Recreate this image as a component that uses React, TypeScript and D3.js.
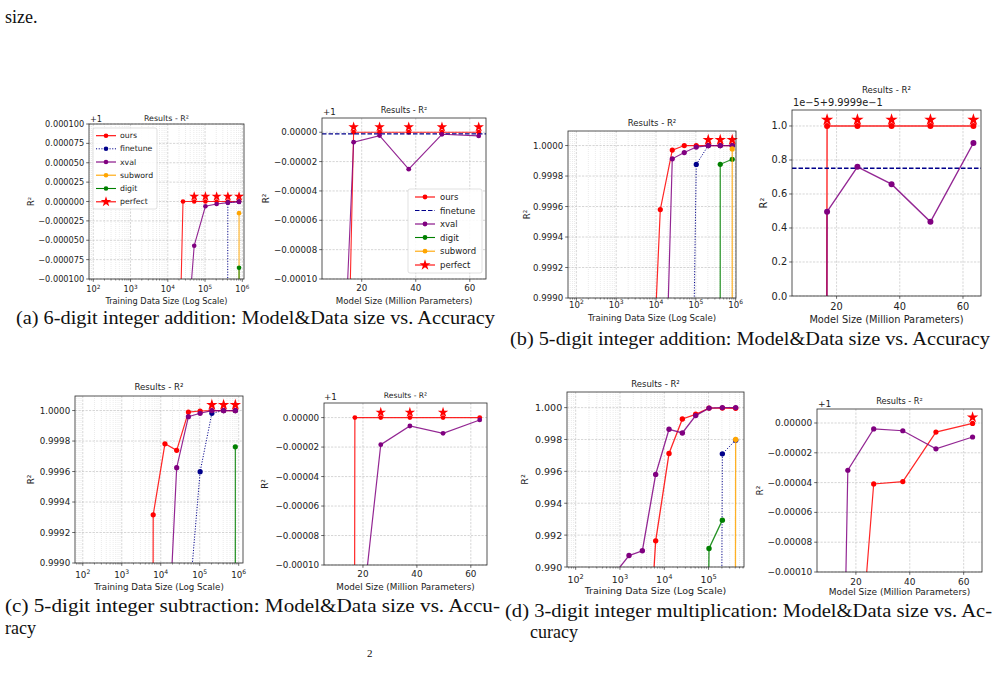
import React from 'react';
import * as d3 from 'd3';

type V = number | null;
const _ = null;

// x positions: training-set sizes (log panels) and model sizes in millions of parameters
const dataSizes = [100, 200, 400, 800, 1600, 3200, 6400, 12800, 25600, 51200, 102400, 204800, 409600, 819200];
const modelSizes = [8.5, 17, 26.6, 37.4, 49.7, 63.3];

// x tick labels
const dataTicks = [1e2, 1e3, 1e4, 1e5, 1e6];
const dataTicksShort = [1e2, 1e3, 1e4, 1e5];
const modelTicks = [20, 40, 60];

// y tick labels (offset panels are relative to +1)
const ticksQuarter = [-0.0001, -0.000075, -0.00005, -0.000025, 0, 0.000025, 0.00005, 0.000075, 0.0001];
const ticksFifth = [-0.0001, -0.00008, -0.00006, -0.00004, -0.00002, 0];
const ticksFine = [0.999, 0.9992, 0.9994, 0.9996, 0.9998, 1];
const ticksUnit = [0, 0.2, 0.4, 0.6, 0.8, 1];
const ticksMul = [0.99, 0.992, 0.994, 0.996, 0.998, 1];

// (a) 6-digit addition, R² vs data size
const add6DataOurs: V[] = [_, _, _, _, _, _, _, 0.99937, 1, 1, 1, 1, 1, 1];
const add6DataFinetune: V[] = [_, _, _, _, _, _, _, _, _, _, _, 0.99, 0.9999985, 0.9999998];
const add6DataXval: V[] = [_, _, _, _, _, _, _, _, 0.999756, 0.999943, 0.9999938, 0.9999968, 0.9999985, 0.9999995];
const add6DataSubword: V[] = [_, _, _, _, _, _, _, _, _, _, _, _, 0.5, 0.999985];
const add6DataDigit: V[] = [_, _, _, _, _, _, _, _, _, _, _, _, 0.5, 0.9999145];
const add6DataPerfect: V[] = [_, _, _, _, _, _, _, _, _, 1, 1, 1, 1, 1];
// (a) 6-digit addition, R² vs model size
const add6ModelOurs: V[] = [0.99929, 1, 1, 1, 1, 1];
const add6ModelFinetune: V[] = [0.9999989];
const add6ModelXval: V[] = [0.99963, 0.9999932, 0.9999977, 0.9999748, 0.9999986, 0.9999975];
const add6ModelPerfect: V[] = [_, 1, 1, 1, 1, 1];

// (b) 5-digit addition
const add5DataOurs: V[] = [_, _, _, _, _, _, 0.9978, 0.99958, 0.99997, 1, 1, 1, 1, 1];
const add5DataFinetune: V[] = [_, _, _, _, _, _, _, _, _, 0.9946, 0.999876, 1, 1, 1];
const add5DataXval: V[] = [_, _, _, _, _, _, _, 0.99714, 0.999913, 0.999954, 0.99999, 1, 1, 1];
const add5DataDigit: V[] = [_, _, _, _, _, _, _, _, _, _, _, 0.5, 0.999877, 0.99991];
const add5DataSubword: V[] = [_, _, _, _, _, _, _, _, _, _, _, _, 0.5, 0.999978];
const add5DataPerfect: V[] = [_, _, _, _, _, _, _, _, _, _, _, 1, 1, 1];
const add5ModelOurs: V[] = [0.999, 1, 1, 1, 1, 1];
const add5ModelFinetune: V[] = [0.99999751];
const add5ModelXval: V[] = [0.999, 0.99999496, 0.9999976, 0.99999658, 0.99999436, 0.999999];
const add5ModelPerfect: V[] = [_, 1, 1, 1, 1, 1];

// (c) 5-digit subtraction
const sub5DataOurs: V[] = [_, _, _, _, _, 0.95, 0.999316, 0.999782, 0.999739, 0.99999, 0.999997, 1, 1, 1];
const sub5DataFinetune: V[] = [_, _, _, _, _, _, _, _, _, 0.99869, 0.999599, 0.999982, 1, 1];
const sub5DataXval: V[] = [_, _, _, _, _, _, _, 0.99802, 0.999625, 0.99996, 0.999982, 1, 1, 1];
const sub5DataDigit: V[] = [_, _, _, _, _, _, _, _, _, _, _, _, 0.5, 0.999762];
const sub5DataPerfect: V[] = [_, _, _, _, _, _, _, _, _, _, _, 1, 1, 1];
const sub5ModelOurs: V[] = [0.99, 1, 1, 1, 1, 1];
const sub5ModelXval: V[] = [0.999, 0.999822, 0.9999816, 0.9999943, 0.9999893, 0.9999984];
const sub5ModelPerfect: V[] = [_, _, 1, 1, 1, _];

// (d) 3-digit multiplication
const mul3DataOurs: V[] = [_, _, _, _, _, 0.978, 0.99164, 0.99712, 0.99929, 0.99958, 0.99997, 0.99997, 0.99996, _];
const mul3DataFinetune: V[] = [_, _, _, _, _, _, _, _, _, _, 0.8, 0.9971, 0.99796, _];
const mul3DataXval: V[] = [_, _, _, 0.98966, 0.99072, 0.99102, 0.99581, 0.99864, 0.99841, 0.9995, 0.99997, 1, 1, _];
const mul3DataDigit: V[] = [_, _, _, _, _, _, _, _, _, 0.9, 0.99116, 0.99294, _, _];
const mul3DataSubword: V[] = [_, _, _, _, _, _, _, _, _, _, _, 0.5, 0.998, _];
const mul3DataPerfect: V[] = [_, _, _, _, _, _, _, _, _, _, _, _, _, _];
const mul3ModelOurs: V[] = [_, 0.99974, 0.9999591, 0.9999607, 0.9999939, 0.9999997];
const mul3ModelXval: V[] = [0.99914, 0.9999683, 0.999996, 0.9999948, 0.9999827, 0.9999906];
const mul3ModelPerfect: V[] = [_, _, _, _, _, 1];

const SANS = '"DejaVu Sans", Verdana, sans-serif';
const SERIF = '"Liberation Serif", "DejaVu Serif", serif';

const colors: Record<string, string> = {
  ours: '#ff0000',
  finetune: '#00008b',
  xval: '#800080',
  digit: '#008000',
  subword: '#ffa500',
  perfect: '#ff0000',
};

interface Series { method: string; values: V[]; hline?: boolean }
interface LegendSpec { box: [number, number, number, number]; rows: number[]; hx: [number, number]; tx: number; font: number; order: string[]; dashed: boolean }
interface PanelSpec {
  id: string;
  box: [number, number, number, number];
  log: boolean;
  xDomain: [number, number];
  xTicks: number[];
  xLabel: string;
  xTickY: number;
  xLabelY: number;
  base: number;
  unit: number;
  yDomain: [number, number];
  yTicks: number[];
  yDigits: number;
  offset?: { text: string; x: number; y: number };
  yLabelX: number;
  titleY: number;
  font: number;
  titleFont: number;
  r: number;
  starR: number;
  lw: number;
  series: Series[];
  perfect: V[];
  legend?: LegendSpec;
}

const panels: PanelSpec[] = [
  {
    id: 'a1', box: [89, 124, 244, 279], log: true, xDomain: [1.885, 6.046], xTicks: dataTicks,
    xLabel: 'Training Data Size (Log Scale)', xTickY: 292, xLabelY: 304,
    base: 1, unit: 1, yDomain: [-0.0001, 0.0001], yTicks: ticksQuarter, yDigits: 6,
    offset: { text: '+1', x: 90, y: 122 }, yLabelX: 31, titleY: 120.5, font: 8.2, titleFont: 7.9,
    r: 2.3, starR: 5.3, lw: 1.1,
    series: [
      { method: 'ours', values: add6DataOurs },
      { method: 'finetune', values: add6DataFinetune },
      { method: 'xval', values: add6DataXval },
      { method: 'subword', values: add6DataSubword },
      { method: 'digit', values: add6DataDigit },
    ],
    perfect: add6DataPerfect,
    legend: {
      box: [93, 128, 157, 209], rows: [135.7, 148.8, 162, 175.2, 188.5, 201.8], hx: [96, 116], tx: 120, font: 7.8,
      order: ['ours', 'finetune', 'xval', 'subword', 'digit', 'perfect'], dashed: false,
    },
  },
  {
    id: 'a2', box: [322, 118, 486, 279], log: false, xDomain: [5.3, 66], xTicks: modelTicks,
    xLabel: 'Model Size (Million Parameters)', xTickY: 291.3, xLabelY: 304.3,
    base: 1, unit: 1, yDomain: [-0.0001, 0.0000097], yTicks: ticksFifth, yDigits: 5,
    offset: { text: '+1', x: 323, y: 114.7 }, yLabelX: 266, titleY: 112.5, font: 8.7, titleFont: 8.2,
    r: 2.4, starR: 5.5, lw: 1.1,
    series: [
      { method: 'ours', values: add6ModelOurs },
      { method: 'finetune', values: add6ModelFinetune, hline: true },
      { method: 'xval', values: add6ModelXval },
    ],
    perfect: add6ModelPerfect,
    legend: {
      box: [408, 189, 482, 273], rows: [197, 210.5, 224, 237.5, 251.2, 265], hx: [415, 435], tx: 440, font: 8.5,
      order: ['ours', 'finetune', 'xval', 'digit', 'subword', 'perfect'], dashed: true,
    },
  },
  {
    id: 'b1', box: [568, 131, 736, 298], log: true, xDomain: [1.79, 6.008], xTicks: dataTicks,
    xLabel: 'Training Data Size (Log Scale)', xTickY: 308, xLabelY: 320.5,
    base: 0, unit: 1, yDomain: [0.999, 1.0000954], yTicks: ticksFine, yDigits: 4,
    yLabelX: 527, titleY: 125.7, font: 8.6, titleFont: 8.5,
    r: 2.6, starR: 6, lw: 1.2,
    series: [
      { method: 'ours', values: add5DataOurs },
      { method: 'finetune', values: add5DataFinetune },
      { method: 'xval', values: add5DataXval },
      { method: 'digit', values: add5DataDigit },
      { method: 'subword', values: add5DataSubword },
    ],
    perfect: add5DataPerfect,
  },
  {
    id: 'b2', box: [792, 110, 981, 296], log: false, xDomain: [5.9, 65.7], xTicks: modelTicks,
    xLabel: 'Model Size (Million Parameters)', xTickY: 310.2, xLabelY: 322.7,
    base: 0.99999, unit: 1e-5, yDomain: [0, 1.094], yTicks: ticksUnit, yDigits: 1,
    offset: { text: '1e\u22125+9.9999e\u22121', x: 793, y: 105.5 }, yLabelX: 763, titleY: 92.8, font: 9.8, titleFont: 8.6,
    r: 3, starR: 6.5, lw: 1.4,
    series: [
      { method: 'ours', values: add5ModelOurs },
      { method: 'finetune', values: add5ModelFinetune, hline: true },
      { method: 'xval', values: add5ModelXval },
    ],
    perfect: add5ModelPerfect,
  },
  {
    id: 'c1', box: [75, 396, 243, 563], log: true, xDomain: [1.8, 6.11], xTicks: dataTicks,
    xLabel: 'Training Data Size (Log Scale)', xTickY: 578, xLabelY: 589.7,
    base: 0, unit: 1, yDomain: [0.999, 1.0000954], yTicks: ticksFine, yDigits: 4,
    yLabelX: 31, titleY: 390.3, font: 8.7, titleFont: 8.6,
    r: 2.6, starR: 6, lw: 1.2,
    series: [
      { method: 'ours', values: sub5DataOurs },
      { method: 'finetune', values: sub5DataFinetune },
      { method: 'xval', values: sub5DataXval },
      { method: 'digit', values: sub5DataDigit },
    ],
    perfect: sub5DataPerfect,
  },
  {
    id: 'c2', box: [324, 403, 487, 565], log: false, xDomain: [5.55, 66], xTicks: modelTicks,
    xLabel: 'Model Size (Million Parameters)', xTickY: 576.5, xLabelY: 589.7,
    base: 1, unit: 1, yDomain: [-0.0001, 0.0000099], yTicks: ticksFifth, yDigits: 5,
    offset: { text: '+1', x: 324, y: 400.3 }, yLabelX: 265, titleY: 398, font: 8.8, titleFont: 7.6,
    r: 2.4, starR: 5.5, lw: 1.2,
    series: [
      { method: 'ours', values: sub5ModelOurs },
      { method: 'xval', values: sub5ModelXval },
    ],
    perfect: sub5ModelPerfect,
  },
  {
    id: 'd1', box: [567, 392, 744, 567], log: true, xDomain: [1.804, 5.8], xTicks: dataTicksShort,
    xLabel: 'Training Data Size (Log Scale)', xTickY: 582.5, xLabelY: 594,
    base: 0, unit: 1, yDomain: [0.99, 1.00098], yTicks: ticksMul, yDigits: 3,
    yLabelX: 524, titleY: 386.5, font: 9.5, titleFont: 8.5,
    r: 2.7, starR: 6, lw: 1.3,
    series: [
      { method: 'ours', values: mul3DataOurs },
      { method: 'finetune', values: mul3DataFinetune },
      { method: 'xval', values: mul3DataXval },
      { method: 'digit', values: mul3DataDigit },
      { method: 'subword', values: mul3DataSubword },
    ],
    perfect: mul3DataPerfect,
  },
  {
    id: 'd2', box: [817, 409, 982, 572], log: false, xDomain: [5.56, 66.8], xTicks: modelTicks,
    xLabel: 'Model Size (Million Parameters)', xTickY: 585, xLabelY: 595,
    base: 1, unit: 1, yDomain: [-0.0001, 0.0000094], yTicks: ticksFifth, yDigits: 5,
    offset: { text: '+1', x: 818, y: 407 }, yLabelX: 759.5, titleY: 403.7, font: 9, titleFont: 8.2,
    r: 2.6, starR: 6, lw: 1.2,
    series: [
      { method: 'ours', values: mul3ModelOurs },
      { method: 'xval', values: mul3ModelXval },
    ],
    perfect: mul3ModelPerfect,
  },
];

function starPath(r: number) {
  return d3.symbol(d3.symbolStar, (r * r) / 0.8908130915292852)() as string;
}

function Legend({ l, lw, r, starR }: { l: LegendSpec; lw: number; r: number; starR: number }) {
  const [bx0, by0, bx1, by1] = l.box;
  const mid = (l.hx[0] + l.hx[1]) / 2;
  return (
    <g>
      <rect x={bx0} y={by0} width={bx1 - bx0} height={by1 - by0} rx={2} fill="#fff" fillOpacity={0.85} stroke="#d4d4d4" strokeWidth={0.7} />
      {l.order.map((m, i) => {
        const yy = l.rows[i];
        const dash = m === 'finetune' ? (l.dashed ? '4.5,2' : '1.1,1.6') : undefined;
        return (
          <g key={m}>
            <line x1={l.hx[0]} x2={l.hx[1]} y1={yy} y2={yy} stroke={colors[m]} strokeWidth={m === 'finetune' && !l.dashed ? 1 : lw} strokeDasharray={dash} />
            {m === 'perfect' ? (
              <path d={starPath(starR * 1.05)} transform={`translate(${mid},${yy})`} fill={colors[m]} />
            ) : m === 'finetune' && l.dashed ? null : (
              <circle cx={mid} cy={yy} r={r} fill={colors[m]} />
            )}
            <text x={l.tx} y={yy} dominantBaseline="central" fontSize={l.font} fill="#222">{m}</text>
          </g>
        );
      })}
    </g>
  );
}

function Panel({ p }: { p: PanelSpec }) {
  const [x0, y0, x1, y1] = p.box;
  const lo = p.log ? 10 ** p.xDomain[0] : p.xDomain[0];
  const hi = p.log ? 10 ** p.xDomain[1] : p.xDomain[1];
  const x = p.log
    ? d3.scaleLog().domain([lo, hi]).range([x0, x1])
    : d3.scaleLinear().domain([lo, hi]).range([x0, x1]);
  const yScale = d3.scaleLinear().domain(p.yDomain).range([y1, y0]);
  const y = (v: number) => yScale((v - p.base) / p.unit);
  const xs = p.log ? dataSizes : modelSizes;
  const fmt = d3.format(`.${p.yDigits}f`);
  const clip = `clip-${p.id}`;

  const minor: number[] = [];
  if (p.log) {
    for (let e = 1; e <= 6; e++) {
      for (let j = 2; j <= 9; j++) {
        const v = j * 10 ** e;
        if (v > lo && v < hi) minor.push(v);
      }
    }
  }

  const line = d3
    .line<[number, V]>()
    .defined((d) => d[1] != null)
    .x((d) => x(d[0]))
    .y((d) => y(d[1] as number));

  const star = starPath(p.starR);
  const starDy = p.starR * 0.95;
  const tick = 2.8;

  return (
    <g fontFamily={SANS}>
      <defs>
        <clipPath id={clip}>
          <rect x={x0} y={y0} width={x1 - x0} height={y1 - y0} />
        </clipPath>
      </defs>

      {/* grid */}
      {minor.map((v) => (
        <line key={`m${v}`} x1={x(v)} x2={x(v)} y1={y0} y2={y1} stroke="#d6d6d6" strokeWidth={0.5} strokeDasharray="1,1" />
      ))}
      {p.xTicks.map((v) => (
        <line key={`gx${v}`} x1={x(v)} x2={x(v)} y1={y0} y2={y1} stroke="#c4c4c4" strokeWidth={0.7} strokeDasharray="2.2,1.3" />
      ))}
      {p.yTicks.map((v) => (
        <line key={`gy${v}`} x1={x0} x2={x1} y1={yScale(v)} y2={yScale(v)} stroke="#c4c4c4" strokeWidth={0.7} strokeDasharray="2.2,1.3" />
      ))}

      {/* series */}
      <g clipPath={`url(#${clip})`}>
        {p.series.map((s) => {
          const c = colors[s.method];
          if (s.hline) {
            const yy = y(s.values[0] as number);
            return <line key={s.method} x1={x0} x2={x1} y1={yy} y2={yy} stroke={c} strokeWidth={p.lw} strokeDasharray="4.5,2" />;
          }
          const pts = xs.map((xv, i) => [xv, s.values[i] ?? null] as [number, V]);
          const dotted = s.method === 'finetune';
          return (
            <g key={s.method}>
              <path d={line(pts) ?? ''} fill="none" stroke={c} strokeWidth={dotted ? 1 : p.lw} strokeOpacity={dotted ? 1 : 0.85} strokeDasharray={dotted ? '1.1,1.6' : undefined} />
              {pts
                .filter((d) => d[1] != null)
                .map((d) => (
                  <circle key={d[0]} cx={x(d[0])} cy={y(d[1] as number)} r={p.r} fill={c} />
                ))}
            </g>
          );
        })}
      </g>
      {xs.map((xv, i) =>
        p.perfect[i] == null ? null : (
          <path key={`s${xv}`} d={star} transform={`translate(${x(xv)},${y(p.perfect[i] as number) - starDy})`} fill={colors.perfect} />
        ),
      )}

      {/* frame and ticks */}
      <rect x={x0} y={y0} width={x1 - x0} height={y1 - y0} fill="none" stroke="#2a2a2a" strokeWidth={0.8} />
      {minor.map((v) => (
        <line key={`mt${v}`} x1={x(v)} x2={x(v)} y1={y1} y2={y1 + 1.6} stroke="#2a2a2a" strokeWidth={0.5} />
      ))}
      {p.xTicks.map((v) => (
        <g key={`xt${v}`}>
          <line x1={x(v)} x2={x(v)} y1={y1} y2={y1 + tick} stroke="#2a2a2a" strokeWidth={0.7} />
          <text x={x(v)} y={p.xTickY} textAnchor="middle" fontSize={p.font} fill="#222">
            {p.log ? (
              <>
                10
                <tspan dy={-p.font * 0.42} fontSize={p.font * 0.7}>{Math.round(Math.log10(v))}</tspan>
              </>
            ) : (
              v
            )}
          </text>
        </g>
      ))}
      {p.yTicks.map((v) => (
        <g key={`yt${v}`}>
          <line x1={x0 - tick} x2={x0} y1={yScale(v)} y2={yScale(v)} stroke="#2a2a2a" strokeWidth={0.7} />
          <text x={x0 - tick - 2} y={yScale(v)} dominantBaseline="central" textAnchor="end" fontSize={p.font} fill="#222">
            {fmt(v)}
          </text>
        </g>
      ))}

      {/* labels */}
      <text x={(x0 + x1) / 2} y={p.titleY} textAnchor="middle" fontSize={p.titleFont} fill="#222">Results - R²</text>
      {p.offset && (
        <text x={p.offset.x} y={p.offset.y} fontSize={p.font} fill="#222">{p.offset.text}</text>
      )}
      <text x={(x0 + x1) / 2} y={p.xLabelY} textAnchor="middle" fontSize={p.font} fill="#222">{p.xLabel}</text>
      <text transform={`translate(${p.yLabelX},${(y0 + y1) / 2}) rotate(-90)`} textAnchor="middle" dominantBaseline="central" fontSize={p.font} fill="#222">R²</text>

      {p.legend && <Legend l={p.legend} lw={p.lw} r={p.r} starR={p.starR} />}
    </g>
  );
}

function Captions() {
  return (
    <g fontFamily={SERIF} fontSize={18} fill="#111">
      <text x={5} y={23}>size.</text>
      <text x={16} y={324} textLength={479} lengthAdjust="spacingAndGlyphs">(a) 6-digit integer addition: Model&amp;Data size vs. Accuracy</text>
      <text x={510} y={345} textLength={480} lengthAdjust="spacingAndGlyphs">(b) 5-digit integer addition: Model&amp;Data size vs. Accuracy</text>
      <text x={5} y={612} textLength={495} lengthAdjust="spacingAndGlyphs">(c) 5-digit integer subtraction: Model&amp;Data size vs. Accu-</text>
      <text x={5} y={634}>racy</text>
      <text x={505} y={617} textLength={487} lengthAdjust="spacingAndGlyphs">(d) 3-digit integer multiplication: Model&amp;Data size vs. Ac-</text>
      <text x={530} y={638}>curacy</text>
      <text x={367} y={657} fontSize={11}>2</text>
    </g>
  );
}

export default function App() {
  return (
    <svg width={1001} height={678} style={{ position: 'absolute', left: 0, top: 0, background: '#fff' }}>
      <rect width={1001} height={678} fill="#fff" />
      <Captions />
      {panels.map((p) => (
        <Panel key={p.id} p={p} />
      ))}
    </svg>
  );
}
